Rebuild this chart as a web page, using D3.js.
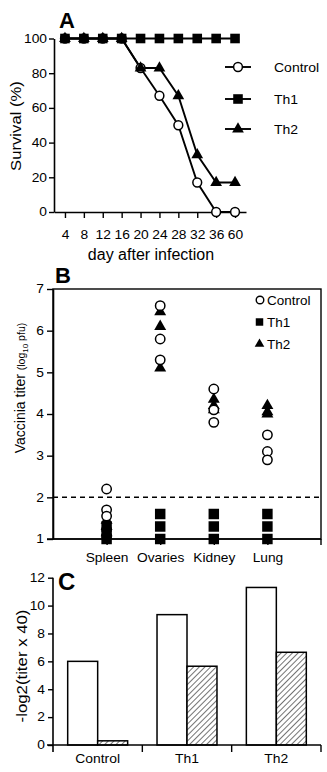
<!DOCTYPE html>
<html><head><meta charset="utf-8">
<script src="https://cdn.jsdelivr.net/npm/d3@7"></script>
<style>
body{margin:0;background:#fff}
svg text{font-family:"Liberation Sans",Arial,Helvetica,sans-serif;fill:#000}
</style>
</head><body>
<svg id="chart" width="327" height="772"></svg>
<script>
// ---------- Panel A data ----------
const days = ["4","8","12","16","20","24","28","32","36","60"];
const survControl = [100,100,100,100,83,67,50,17,0,0];
const survTh1 = [100,100,100,100,100,100,100,100,100,100];
const survTh2 = [100,100,100,100,83,83,67,33,17,17];
const survTicks = [0,20,40,60,80,100];
const seriesNames = ["Control","Th1","Th2"];

// ---------- Panel B data ----------
const organs = ["Spleen","Ovaries","Kidney","Lung"];
const titerControl = [[2.2,1.7,1.55],[6.6,5.8,5.3],[4.6,4.1,3.8],[3.5,3.1,2.9]];
const titerTh1 = [[1.3,1.15,1.0],[1.6,1.3,1.0],[1.6,1.3,1.0],[1.6,1.3,1.0]];
const titerTh2 = [[1.45,1.3,1.15],[6.45,6.1,5.1],[4.35,4.2,4.1],[4.2,4.05,4.0]];
const titerTicks = [1,2,3,4,5,6,7];
const detectionLimit = 2;

// ---------- Panel C data ----------
const groups = ["Control","Th1","Th2"];
const neutOpen = [6.0,9.35,11.3];
const neutHatched = [0.3,5.65,6.65];
const neutTicks = [0,2,4,6,8,10,12];

const svg = d3.select("#chart");
const defs = svg.append("defs");
const pat = defs.append("pattern").attr("id","hatch").attr("patternUnits","userSpaceOnUse")
  .attr("width",4).attr("height",4).attr("patternTransform","rotate(45)");
pat.append("rect").attr("width",4).attr("height",4).attr("fill","#fff");
pat.append("line").attr("x1",0).attr("y1",0).attr("x2",0).attr("y2",4).attr("stroke","#000").attr("stroke-width",1.1);

function txt(x, y, str, size, o = {}) {
  const sx = o.sx ?? 1.12, rot = o.rotate ?? 0;
  return svg.append("text")
    .attr("transform", `translate(${x},${y}) rotate(${rot}) scale(${sx},1)`)
    .attr("text-anchor", o.anchor ?? "start")
    .attr("font-size", size)
    .attr("font-weight", o.weight ?? "normal")
    .text(str);
}
function styleAxis(g, sx, size) {
  g.select(".domain").attr("stroke","#000").attr("stroke-width",1.6);
  g.selectAll(".tick line").attr("stroke","#000").attr("stroke-width",1.4);
  g.selectAll(".tick text").attr("font-size",size).attr("font-family",null)
    .each(function(){
      const t = d3.select(this);
      const x = +t.attr("x") || 0;
      t.attr("x", x/sx).attr("transform",`scale(${sx},1)`);
    });
}
const sym = (type, size) => d3.symbol().type(type).size(size)();

// ================= Panel A =================
const xA = d3.scalePoint().domain(days).range([54,246]).padding(0.58);
const yA = d3.scaleLinear().domain([0,100]).range([212,38.5]);

const gAy = svg.append("g").attr("transform","translate(54,0)")
  .call(d3.axisLeft(yA).tickValues(survTicks).tickFormat(d3.format("d")).tickSize(5).tickPadding(2).tickSizeOuter(0));
styleAxis(gAy, 1.15, 12);
const gAx = svg.append("g").attr("transform","translate(0,212)")
  .call(d3.axisBottom(xA).tickSize(6).tickPadding(12).tickSizeOuter(0));
styleAxis(gAx, 1.15, 12);

txt(151, 260, "day after infection", 16, {anchor:"middle", sx:1});
txt(21, 126, "Survival (%)", 14.5, {anchor:"middle", rotate:-90, sx:1.15});
txt(59, 28, "A", 22, {weight:"bold", sx:1});

const lineA = d3.line().x((d,i)=>xA(days[i])).y(d=>yA(d));
[survControl, survTh2, survTh1].forEach(s=>{
  svg.append("path").datum(s).attr("d",lineA).attr("fill","none").attr("stroke","#000").attr("stroke-width",1.9);
});
svg.append("g").selectAll("circle").data(survControl).join("circle")
  .attr("cx",(d,i)=>xA(days[i])).attr("cy",d=>yA(d)).attr("r",4.4)
  .attr("fill","#fff").attr("stroke","#000").attr("stroke-width",1.5);
svg.append("g").selectAll("path").data(survTh2).join("path")
  .attr("transform",(d,i)=>`translate(${xA(days[i])},${yA(d)})`)
  .attr("d",sym(d3.symbolTriangle,60)).attr("fill","#000");
svg.append("g").selectAll("path").data(survTh1).join("path")
  .attr("transform",(d,i)=>`translate(${xA(days[i])},${yA(d)})`)
  .attr("d",sym(d3.symbolSquare,92)).attr("fill","#000");

const legA = [67,99,129];
seriesNames.forEach((n,i)=>{
  const y = legA[i];
  svg.append("line").attr("x1",225).attr("x2",251).attr("y1",y).attr("y2",y).attr("stroke","#000").attr("stroke-width",1.9);
  if (i===0) svg.append("circle").attr("cx",238).attr("cy",y).attr("r",4.4).attr("fill","#fff").attr("stroke","#000").attr("stroke-width",1.5);
  if (i===1) svg.append("path").attr("transform",`translate(238,${y})`).attr("d",sym(d3.symbolSquare,92)).attr("fill","#000");
  if (i===2) svg.append("path").attr("transform",`translate(238,${y})`).attr("d",sym(d3.symbolTriangle,60)).attr("fill","#000");
  txt(274, y+4.5, n, 12.5, {sx:1.12});
});

// ================= Panel B =================
const xB = d3.scalePoint().domain(organs).range([53,321]).padding(1);
const yB = d3.scaleLinear().domain([1,7]).range([539,289]);

svg.append("rect").attr("x",53).attr("y",289).attr("width",268).attr("height",250)
  .attr("fill","none").attr("stroke","#000").attr("stroke-width",1.4);
svg.append("line").attr("x1",321).attr("x2",321).attr("y1",539).attr("y2",545).attr("stroke","#000").attr("stroke-width",1.4);
const gBy = svg.append("g").attr("transform","translate(53,0)")
  .call(d3.axisLeft(yB).tickValues(titerTicks).tickFormat(d3.format("d")).tickSize(6).tickPadding(3).tickSizeOuter(0));
styleAxis(gBy, 1.15, 12);
const gBx = svg.append("g").attr("transform","translate(0,539)")
  .call(d3.axisBottom(xB).tickSize(6).tickPadding(8).tickSizeOuter(0));
styleAxis(gBx, 1.1, 12.5);
gBx.select(".domain").attr("d","M47,0H321");

svg.append("line").attr("x1",53).attr("x2",321).attr("y1",yB(detectionLimit)).attr("y2",yB(detectionLimit))
  .attr("stroke","#000").attr("stroke-width",1.5).attr("stroke-dasharray","5,4");

txt(55, 283, "B", 22, {weight:"bold", sx:1});

const ylB = svg.append("text").attr("transform","translate(25,388) rotate(-90)").attr("text-anchor","middle");
ylB.append("tspan").attr("font-size",14).text("Vaccinia titer ");
ylB.append("tspan").attr("font-size",10.5).text("(log");
ylB.append("tspan").attr("font-size",8).attr("dy",3).text("10");
ylB.append("tspan").attr("font-size",10.5).attr("dy",-3).text(" pfu)");

function flat(arr){ const out=[]; arr.forEach((vals,i)=>vals.forEach(v=>out.push({o:organs[i],v}))); return out; }
svg.append("g").selectAll("path").data(flat(titerTh1)).join("path")
  .attr("transform",d=>`translate(${xB(d.o)},${yB(d.v)})`)
  .attr("d",sym(d3.symbolSquare,110)).attr("fill","#000");
svg.append("g").selectAll("path").data(flat(titerTh2)).join("path")
  .attr("transform",d=>`translate(${xB(d.o)},${yB(d.v)})`)
  .attr("d",sym(d3.symbolTriangle,62)).attr("fill","#000");
svg.append("g").selectAll("circle").data(flat(titerControl)).join("circle")
  .attr("cx",d=>xB(d.o)).attr("cy",d=>yB(d.v)).attr("r",4.7)
  .attr("fill","#fff").attr("stroke","#000").attr("stroke-width",1.5);

const legB = [300,322,344];
seriesNames.forEach((n,i)=>{
  const y = legB[i];
  if (i===0) svg.append("circle").attr("cx",260).attr("cy",y).attr("r",3.8).attr("fill","#fff").attr("stroke","#000").attr("stroke-width",1.4);
  if (i===1) svg.append("path").attr("transform",`translate(259.5,${y})`).attr("d",sym(d3.symbolSquare,56)).attr("fill","#000");
  if (i===2) svg.append("path").attr("transform",`translate(259.5,${y})`).attr("d",sym(d3.symbolTriangle,40)).attr("fill","#000");
  txt(267, y+4.5, n, 12.5, {sx:1.08});
});

// ================= Panel C =================
const x0 = d3.scaleBand().domain(groups).range([53,321]).padding(0);
const x1 = d3.scaleBand().domain(["open","hatched"]).range([0,x0.bandwidth()]).paddingInner(0).paddingOuter(0.49);
const yC = d3.scaleLinear().domain([0,12]).range([745,577.7]);

const gCy = svg.append("g").attr("transform","translate(53,0)")
  .call(d3.axisLeft(yC).tickValues(neutTicks).tickFormat(d3.format("d")).tickSize(5).tickPadding(3).tickSizeOuter(0));
styleAxis(gCy, 1.15, 12);
gCy.select(".domain").attr("d","M0,752V577.7");

groups.forEach((g,i)=>{
  const gx = x0(g);
  svg.append("rect").attr("x",gx+x1("open")).attr("y",yC(neutOpen[i])).attr("width",x1.bandwidth())
    .attr("height",yC(0)-yC(neutOpen[i])).attr("fill","#fff").attr("stroke","#000").attr("stroke-width",1.5);
  svg.append("rect").attr("x",gx+x1("hatched")).attr("y",yC(neutHatched[i])).attr("width",x1.bandwidth())
    .attr("height",yC(0)-yC(neutHatched[i])).attr("fill","url(#hatch)").attr("stroke","#000").attr("stroke-width",1.5);
});

svg.append("line").attr("x1",47).attr("x2",321).attr("y1",745).attr("y2",745).attr("stroke","#000").attr("stroke-width",1.6);
const bounds = groups.map(g=>x0(g)+x0.bandwidth());
svg.append("g").selectAll("line").data(bounds).join("line")
  .attr("x1",d=>d).attr("x2",d=>d).attr("y1",745).attr("y2",752).attr("stroke","#000").attr("stroke-width",1.4);
groups.forEach(g=>txt(x0(g)+x0.bandwidth()/2, 763, g, 13, {anchor:"middle", sx:1.07}));

txt(58, 590, "C", 24, {weight:"bold", sx:1});
txt(27, 666, "-log2(titer x 40)", 14, {anchor:"middle", rotate:-90, sx:1.2});
</script>
</body></html>
